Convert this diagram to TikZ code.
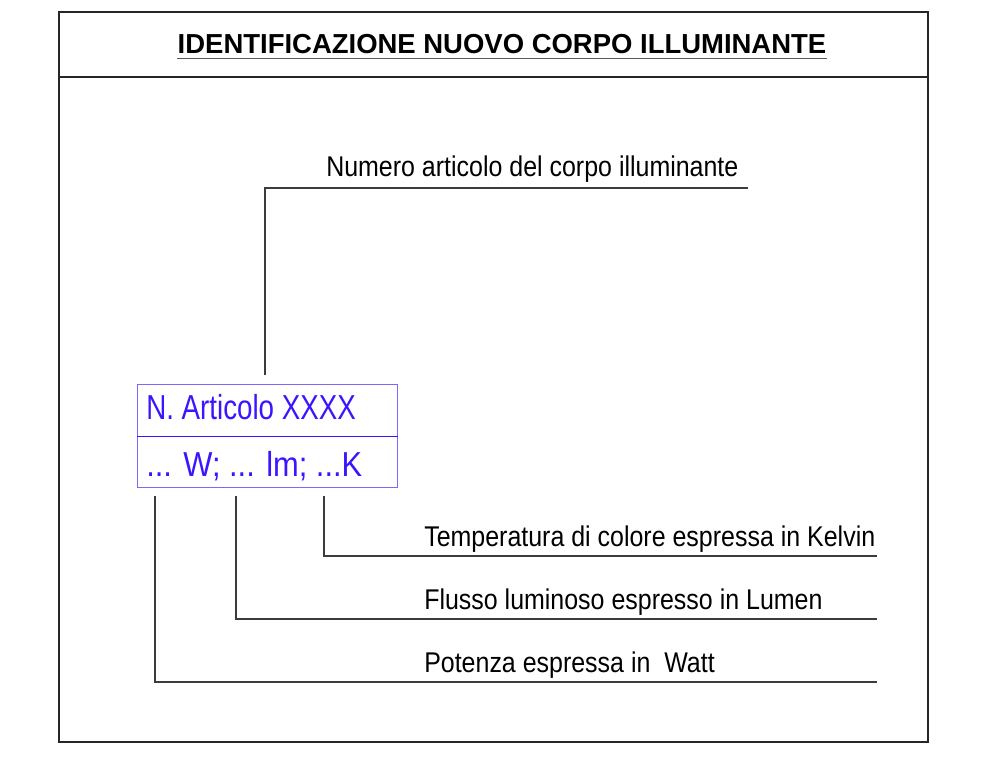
\documentclass[tikz,border=0pt]{standalone}
\usepackage{fontspec}
\setmainfont{Liberation Sans}
\newfontfamily\labelfont[FakeStretch=0.875]{Liberation Sans}
\newfontfamily\boxfont[FakeStretch=0.8]{Liberation Sans}
\newfontfamily\boxfontb[FakeStretch=0.89]{Liberation Sans}
\usetikzlibrary{positioning}
\definecolor{boxblue}{RGB}{60,20,255}
\definecolor{boxedge}{RGB}{130,100,255}
\definecolor{linegray}{RGB}{60,60,60}
\tikzset{
  frameline/.style={draw=black!85, line width=0.9pt},
  leader/.style={draw=linegray, line width=0.8pt},
  label/.style={font=\labelfont\fontsize{21.4pt}{23pt}\selectfont, inner sep=0pt, anchor=base west},
  boxtext/.style={font=\boxfont\fontsize{26pt}{28pt}\selectfont, text=boxblue, inner sep=0pt, anchor=base west},
  boxtextb/.style={font=\boxfontb\fontsize{26pt}{28pt}\selectfont, text=boxblue, inner sep=0pt, anchor=base west},
}
\begin{document}
\begin{tikzpicture}[x=0.75pt,y=-0.75pt]
\useasboundingbox (0,0) rectangle (992,764);
% frame
\draw[frameline] (59,12) rectangle (928,742);
\draw[frameline] (59,77) -- (928,77);
\node[font=\bfseries\fontsize{20.6pt}{22pt}\selectfont, inner sep=0pt, anchor=base] (title) at (502,53) {IDENTIFICAZIONE NUOVO CORPO ILLUMINANTE};
\draw[line width=1.4pt, black!65] (title.base west) ++(0,5.5) coordinate (ul1) -- (ul1 -| title.base east);
% box
\node[draw=boxedge, line width=0.8pt, minimum width=260*0.75pt, minimum height=103*0.75pt, inner sep=0pt, anchor=north west] (box) at (137,384) {};
\draw[draw=boxblue, line width=0.7pt] (box.west) -- (box.east);
\node[boxtext] (art) at (146,419) {N. Articolo XXXX};
\node[boxtextb] (wlk) at (146,476) {... W; ... lm; ...K};
% top leader
\coordinate (t0) at (265,375);
\coordinate (t1) at (265,188);
\coordinate (t2) at (748,188);
\draw[leader] (t0) -- (t1) -- (t2);
\node[label] (num) at (326,176) {Numero articolo del corpo illuminante};
% bottom leaders
\coordinate (k0) at (324,496);
\coordinate (k1) at (324,556);
\coordinate (k2) at (877,556);
\draw[leader] (k0) -- (k1) -- (k2);
\node[label] (kel) at (424,546.5) {Temperatura di colore espressa in Kelvin};
\coordinate (l0) at (236,496);
\coordinate (l1) at (236,619);
\coordinate (l2) at (877,619);
\draw[leader] (l0) -- (l1) -- (l2);
\node[label] (lum) at (424,609.5) {Flusso luminoso espresso in Lumen};
\coordinate (w0) at (155,496);
\coordinate (w1) at (155,682);
\coordinate (w2) at (877,682);
\draw[leader] (w0) -- (w1) -- (w2);
\node[label] (wat) at (424,672) {Potenza espressa in\ \ Watt};
\end{tikzpicture}
\end{document}
